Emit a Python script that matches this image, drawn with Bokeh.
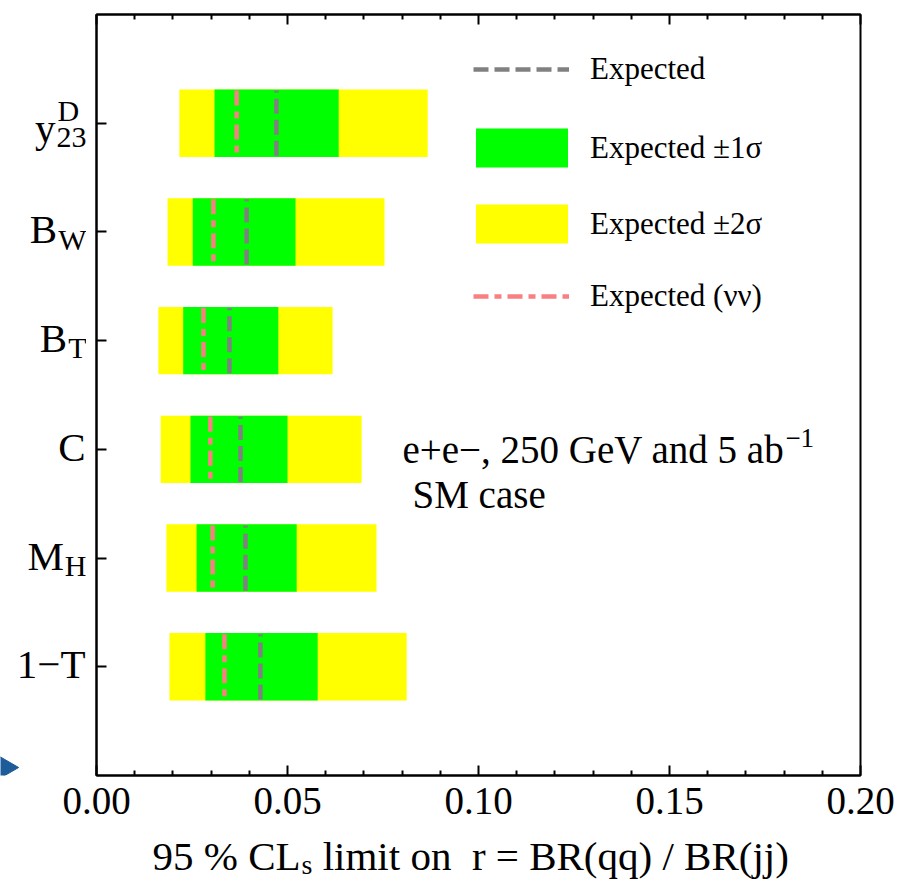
import math
from bokeh.plotting import figure
from bokeh.layouts import row, column
from bokeh.models import (Range1d, FixedTicker, LinearAxis, Label, Legend, LegendItem,
                          CustomJSTickFormatter, ColumnDataSource)
from bokeh.core.properties import value
from bokeh.embed import file_html
from bokeh.resources import INLINE

# ---------------- data ----------------
cat_pos = [6, 5, 4, 3, 2, 1]
cat_main = ["y", "B", "B", "C", "M", "1\u2212T"]
cat_sub = ["23", "W", "T", "", "H", ""]
cat_sup = ["D", "", "", "", "", ""]
minus2 = [0.0217, 0.0186, 0.0162, 0.0168, 0.0183, 0.0191]
minus1 = [0.0309, 0.0252, 0.0227, 0.0246, 0.0262, 0.0285]
expected = [0.0471, 0.0393, 0.0348, 0.0377, 0.0390, 0.0429]
plus1 = [0.0634, 0.0521, 0.0476, 0.0500, 0.0524, 0.0579]
plus2 = [0.0867, 0.0754, 0.0618, 0.0694, 0.0733, 0.0812]
expected_nunu = [0.0367, 0.0306, 0.0280, 0.0298, 0.0304, 0.0335]
x_ticks = [0.00, 0.05, 0.10, 0.15, 0.20]
x_tick_labels = ["0.00", "0.05", "0.10", "0.15", "0.20"]
x_minor = [0.01, 0.02, 0.03, 0.04, 0.06, 0.07, 0.08, 0.09, 0.11, 0.12, 0.13, 0.14,
           0.16, 0.17, 0.18, 0.19]

FONT = "Liberation Serif"
BAR_H = 0.62
LINE_H = 0.30
BL = 0.33  # baseline correction (fraction of font size) for Label text

# layout constants (pixels)
LEFT_W = 86
P_LEFT, P_RIGHT, P_TOP, P_BOTTOM = 10, 37, 14, 2
FW, FH = 764, 761
FRAME_L = LEFT_W + P_LEFT          # page x of the frame's left edge
TOTAL_W = FRAME_L + FW + P_RIGHT
ROW_H = P_TOP + FH + P_BOTTOM
B_H = 879 - ROW_H
X0, X1 = 0.0, 0.2
Y0, Y1 = 0, 7

src = ColumnDataSource(dict(
    y=cat_pos, m2=minus2, m1=minus1, e=expected, p1=plus1, p2=plus2, nn=expected_nunu,
    y0=[c - LINE_H for c in cat_pos], y1=[c + LINE_H for c in cat_pos],
))

yr = Range1d(Y0, Y1)
xr = Range1d(X0, X1)
p = figure(frame_width=FW, frame_height=FH, x_range=xr, y_range=yr,
           output_backend="svg", toolbar_location=None,
           x_axis_location=None, y_axis_location=None,
           min_border_left=P_LEFT, min_border_right=P_RIGHT,
           min_border_top=P_TOP, min_border_bottom=P_BOTTOM)
p.grid.visible = False
p.outline_line_color = "black"
p.outline_line_width = 2

# bars
r2 = p.hbar(y="y", left="m2", right="p2", height=BAR_H, source=src,
            fill_color="#ffff00", line_color=None)
r1 = p.hbar(y="y", left="m1", right="p1", height=BAR_H, source=src,
            fill_color="#00ff00", line_color=None)
rn = p.segment(x0="nn", x1="nn", y0="y1", y1="y0", source=src,
               line_color="#f88080", line_width=4.5, line_dash="15 6 7 6")
re = p.segment(x0="e", x1="e", y0="y0", y1="y1", source=src,
               line_color="#808080", line_width=4.5, line_dash="15 6")

# axes of the main frame (ticks pointing inward, labels drawn separately)
blank = CustomJSTickFormatter(code="return ''")
xb = LinearAxis(ticker=FixedTicker(ticks=x_ticks, minor_ticks=x_minor), formatter=blank)
xt = LinearAxis(ticker=FixedTicker(ticks=x_ticks, minor_ticks=x_minor), formatter=blank)
yl = LinearAxis(ticker=FixedTicker(ticks=cat_pos), formatter=blank)
for ax in (xb, xt, yl):
    ax.axis_line_width = 2
    ax.axis_line_color = "black"
    ax.major_tick_in = 10
    ax.major_tick_out = 0
    ax.minor_tick_in = 5
    ax.minor_tick_out = 0
    ax.major_tick_line_width = 2
    ax.minor_tick_line_width = 2
    ax.major_label_text_font_size = "1px"
    ax.major_label_standoff = 0
p.add_layout(xb, "below")
p.add_layout(xt, "above")
p.add_layout(yl, "left")

# annotation
AFS = 39
ax0 = 402 - FRAME_L
p.add_layout(Label(x=0, y=0, x_offset=ax0, y_offset=775 - 462 + BL * AFS,
                   text="e+e\u2212, 250 GeV and 5 ab",
                   text_align="left", text_baseline="alphabetic",
                   text_font=FONT, text_font_size=f"{AFS}px", text_color="black"))
p.add_layout(Label(x=0, y=0, x_offset=ax0 + 9.792 * AFS + 1, y_offset=775 - 446 + BL * 27,
                   text="\u22121",
                   text_align="left", text_baseline="alphabetic",
                   text_font=FONT, text_font_size="27px", text_color="black"))
p.add_layout(Label(x=0, y=0, x_offset=ax0 + 10, y_offset=775 - 507 + BL * AFS,
                   text="SM case",
                   text_align="left", text_baseline="alphabetic",
                   text_font=FONT, text_font_size=f"{AFS}px", text_color="black"))

# legends (three, so that line swatches and box swatches get their own sizes)
LFS = "31px"
common = dict(padding=0, margin=0, border_line_color=None, background_fill_alpha=0,
              label_text_font=FONT, label_text_font_size=LFS, label_text_color="black")
leg1 = Legend(items=[LegendItem(label="Expected", renderers=[re])],
              location=(473 - 96, 775 - 87), glyph_width=96, glyph_height=30,
              label_height=30, label_standoff=21, **common)
leg2 = Legend(items=[LegendItem(label="Expected \u00b11\u03c3", renderers=[r1]),
                     LegendItem(label="Expected \u00b12\u03c3", renderers=[r2])],
              location=(368, 527), glyph_width=115, glyph_height=49, label_height=49,
              spacing=27, label_standoff=11, **common)
leg3 = Legend(items=[LegendItem(label="Expected (\u03bd\u03bd)", renderers=[rn])],
              location=(473 - 96, 775 - 314), glyph_width=96, glyph_height=30,
              label_height=30, label_standoff=21, **common)
for lg in (leg1, leg2, leg3):
    p.add_layout(lg)

# ---------------- left strip: category labels (same frame geometry as the plot) ----------------
L = figure(frame_width=LEFT_W, frame_height=FH, x_range=Range1d(0, LEFT_W), y_range=yr,
           output_backend="svg", toolbar_location=None,
           x_axis_location=None, y_axis_location=None,
           min_border_left=0, min_border_right=0,
           min_border_top=P_TOP, min_border_bottom=P_BOTTOM)
L.grid.visible = False
L.outline_line_color = None

adv = {"2": 0.5, "3": 0.5, "W": 0.944, "T": 0.611, "H": 0.722, "D": 0.722}
MAIN_FS, SUB_FS = 41, 30
RIGHT = 86
for c, main, sub, sup in zip(cat_pos, cat_main, cat_sub, cat_sup):
    base = -(18 if sup else 11)
    sw = max(sum(adv[ch] for ch in sub) * SUB_FS, sum(adv[ch] for ch in sup) * SUB_FS)
    sub_left = RIGHT - sw
    L.add_layout(Label(x=sub_left - 1, y=c, y_offset=base + BL * MAIN_FS, text=main,
                       text_align="right", text_baseline="alphabetic",
                       text_font=FONT, text_font_size=f"{MAIN_FS}px", text_color="black"))
    if sub:
        L.add_layout(Label(x=sub_left, y=c, y_offset=base - 6 + BL * SUB_FS, text=sub,
                           text_align="left", text_baseline="alphabetic",
                           text_font=FONT, text_font_size=f"{SUB_FS}px", text_color="black"))
    if sup:
        L.add_layout(Label(x=sub_left + 1, y=c, y_offset=base + 21 + BL * SUB_FS, text=sup,
                           text_align="left", text_baseline="alphabetic",
                           text_font=FONT, text_font_size=f"{SUB_FS}px", text_color="black"))

# blue arrow fragment at bottom-left (a marker, cut by the picture edge as in the reference)
u = (Y1 - Y0) / FH
L.scatter(x=[2], y=[Y0 + 8 * u], marker="triangle", size=28, angle=-math.pi / 2,
          fill_color="#1e5b99", line_color="#1e5b99")

# ---------------- strip below: x tick labels and x title (same x scale as the frame) ----------------
k = (X1 - X0) / FW
B = figure(frame_width=TOTAL_W, frame_height=B_H,
           x_range=Range1d(X0 - FRAME_L * k, X1 + P_RIGHT * k),
           y_range=Range1d(0, B_H), output_backend="svg", toolbar_location=None,
           x_axis_location=None, y_axis_location=None,
           min_border_left=0, min_border_right=0, min_border_top=0, min_border_bottom=0)
B.grid.visible = False
B.outline_line_color = None

B.text(x=x_ticks, y=879 - 800, text=x_tick_labels, text_align="center",
       text_baseline="middle", text_font=value(FONT), text_font_size=value("39px"),
       text_color="black")

XFS = 41
xs = 152 - FRAME_L
yb = 879 - 869
B.add_layout(Label(x=0, y=yb + BL * XFS, x_offset=xs, text="95 % CL",
                   text_align="left", text_baseline="alphabetic",
                   text_font=FONT, text_font_size=f"{XFS}px", text_color="black"))
sx = xs + 3.611 * XFS + 1
B.add_layout(Label(x=0, y=yb - 4 + BL * 28, x_offset=sx, text="s",
                   text_align="left", text_baseline="alphabetic",
                   text_font=FONT, text_font_size="28px", text_color="black"))
B.add_layout(Label(x=0, y=yb + BL * XFS, x_offset=sx + 0.389 * 28 + 0.25 * XFS,
                   text="limit on\u00a0\u00a0r = BR(qq) / BR(jj)",
                   text_align="left", text_baseline="alphabetic",
                   text_font=FONT, text_font_size=f"{XFS}px", text_color="black"))

layout = column(row(L, p, spacing=0), B, spacing=0)
open("out.html", "w").write(file_html(layout, INLINE))
